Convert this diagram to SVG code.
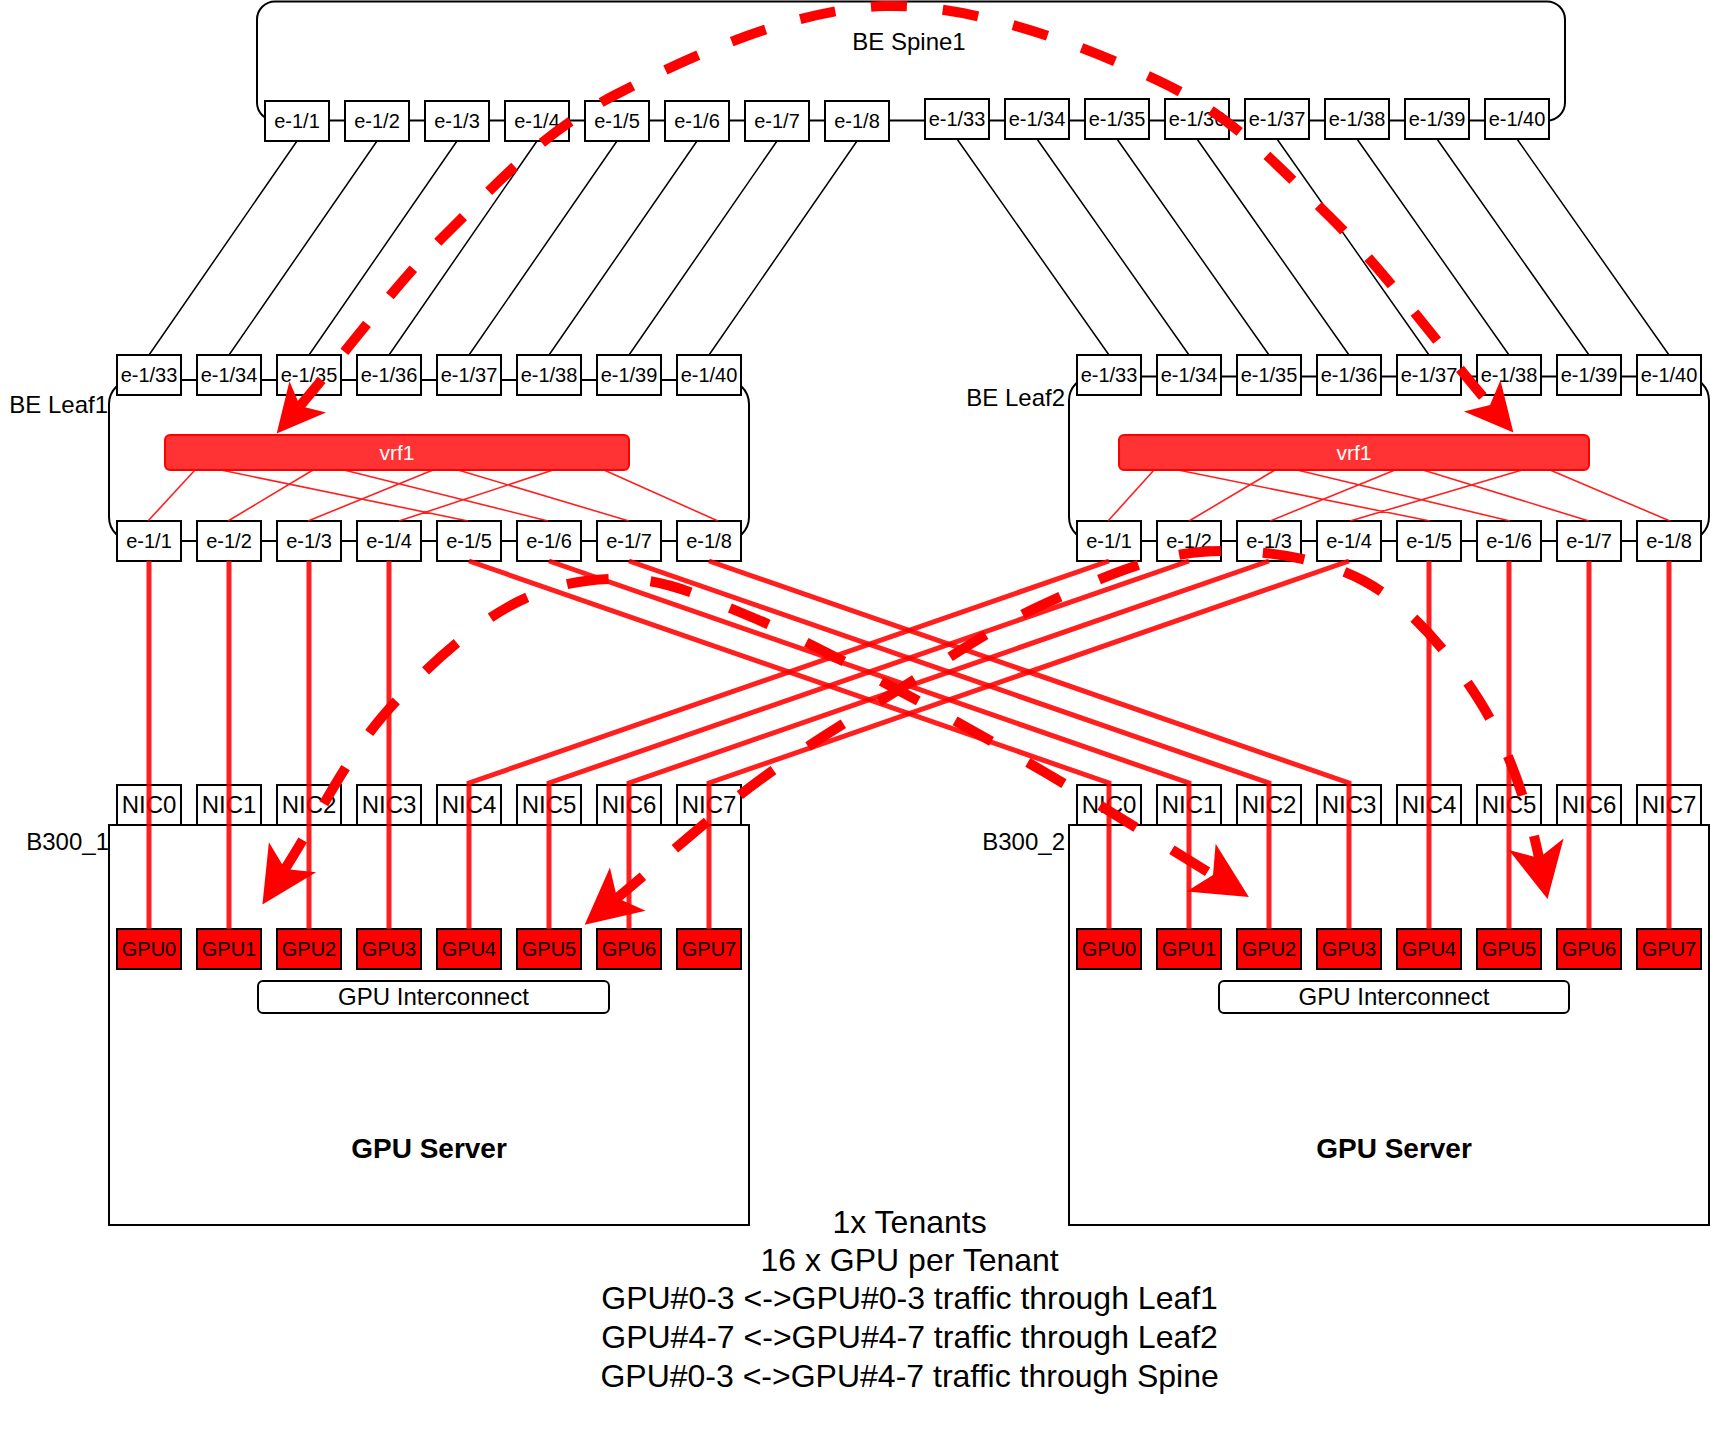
<svg xmlns="http://www.w3.org/2000/svg" width="1710" height="1434" viewBox="0 0 1710 1434">
<style>
text{font-family:"Liberation Sans",Arial,sans-serif;fill:#000}
.c{fill:#fff;stroke:#000;stroke-width:2}
.p{fill:#fff;stroke:#000;stroke-width:2}
.g{fill:#f00;stroke:#000;stroke-width:2}
.pt{font-size:20px;text-anchor:middle}
.nt{font-size:24px;text-anchor:middle}
.gt{font-size:20px;text-anchor:middle}
.lbl{font-size:24px;text-anchor:end}
.vrf{fill:#f33;stroke:#f00;stroke-width:2}
.vt{font-size:21px;text-anchor:middle;fill:#fff}
.ic{fill:#fff;stroke:#000;stroke-width:2}
.it{font-size:24px;text-anchor:middle}
.srv{font-size:28px;font-weight:bold;text-anchor:middle}
.note{font-size:32px;text-anchor:middle}
.bl{stroke:#000;stroke-width:1.5;fill:none}
.vl{stroke:#f00;stroke-opacity:.88;stroke-width:1.6;fill:none}
.tl{stroke:#f00;stroke-opacity:.88;stroke-width:5;fill:none}
.fT{stroke:#f00;stroke-width:10;fill:none;stroke-dasharray:36 36;stroke-dashoffset:2;marker-start:url(#ahT);marker-end:url(#ahT)}
.fL{stroke:#f00;stroke-width:10;fill:none;stroke-dasharray:42 42;stroke-dashoffset:8;marker-start:url(#ahL);marker-end:url(#ahL)}
</style>
<defs>
<marker id="ahT" markerUnits="userSpaceOnUse" orient="auto-start-reverse" refX="0" refY="0" markerWidth="10" markerHeight="10" overflow="visible"><path d="M36,0 L-12,-24 L0,0 L-12,24 Z" fill="#f00"/></marker>
<marker id="ahL" markerUnits="userSpaceOnUse" orient="auto-start-reverse" refX="0" refY="0" markerWidth="10" markerHeight="10" overflow="visible"><path d="M42,0 L-14,-28 L0,0 L-14,28 Z" fill="#f00"/></marker>
</defs>
<rect width="1710" height="1434" fill="#fff"/>

<!-- Spine -->
<g id="spine1"><rect class="c" x="257" y="1.5" width="1308" height="119" rx="18"/><text x="909" y="50" style="font-size:24px;text-anchor:middle">BE Spine1</text></g>
<g id="spine1-p1"><rect class="p" x="265" y="101" width="64" height="40"/><text class="pt" x="297" y="128">e-1/1</text></g>
<g id="spine1-p2"><rect class="p" x="345" y="101" width="64" height="40"/><text class="pt" x="377" y="128">e-1/2</text></g>
<g id="spine1-p3"><rect class="p" x="425" y="101" width="64" height="40"/><text class="pt" x="457" y="128">e-1/3</text></g>
<g id="spine1-p4"><rect class="p" x="505" y="101" width="64" height="40"/><text class="pt" x="537" y="128">e-1/4</text></g>
<g id="spine1-p5"><rect class="p" x="585" y="101" width="64" height="40"/><text class="pt" x="617" y="128">e-1/5</text></g>
<g id="spine1-p6"><rect class="p" x="665" y="101" width="64" height="40"/><text class="pt" x="697" y="128">e-1/6</text></g>
<g id="spine1-p7"><rect class="p" x="745" y="101" width="64" height="40"/><text class="pt" x="777" y="128">e-1/7</text></g>
<g id="spine1-p8"><rect class="p" x="825" y="101" width="64" height="40"/><text class="pt" x="857" y="128">e-1/8</text></g>
<g id="spine1-p33"><rect class="p" x="925" y="99" width="64" height="40"/><text class="pt" x="957" y="126">e-1/33</text></g>
<g id="spine1-p34"><rect class="p" x="1005" y="99" width="64" height="40"/><text class="pt" x="1037" y="126">e-1/34</text></g>
<g id="spine1-p35"><rect class="p" x="1085" y="99" width="64" height="40"/><text class="pt" x="1117" y="126">e-1/35</text></g>
<g id="spine1-p36"><rect class="p" x="1165" y="99" width="64" height="40"/><text class="pt" x="1197" y="126">e-1/36</text></g>
<g id="spine1-p37"><rect class="p" x="1245" y="99" width="64" height="40"/><text class="pt" x="1277" y="126">e-1/37</text></g>
<g id="spine1-p38"><rect class="p" x="1325" y="99" width="64" height="40"/><text class="pt" x="1357" y="126">e-1/38</text></g>
<g id="spine1-p39"><rect class="p" x="1405" y="99" width="64" height="40"/><text class="pt" x="1437" y="126">e-1/39</text></g>
<g id="spine1-p40"><rect class="p" x="1485" y="99" width="64" height="40"/><text class="pt" x="1517" y="126">e-1/40</text></g>

<!-- Leaf1 -->
<g id="leaf1"><rect class="c" x="109" y="380" width="640" height="161" rx="24"/><text class="lbl" x="108" y="413">BE Leaf1</text></g>
<g id="leaf1-p33"><rect class="p" x="117" y="355" width="64" height="40"/><text class="pt" x="149" y="382">e-1/33</text></g>
<g id="leaf1-p34"><rect class="p" x="197" y="355" width="64" height="40"/><text class="pt" x="229" y="382">e-1/34</text></g>
<g id="leaf1-p35"><rect class="p" x="277" y="355" width="64" height="40"/><text class="pt" x="309" y="382">e-1/35</text></g>
<g id="leaf1-p36"><rect class="p" x="357" y="355" width="64" height="40"/><text class="pt" x="389" y="382">e-1/36</text></g>
<g id="leaf1-p37"><rect class="p" x="437" y="355" width="64" height="40"/><text class="pt" x="469" y="382">e-1/37</text></g>
<g id="leaf1-p38"><rect class="p" x="517" y="355" width="64" height="40"/><text class="pt" x="549" y="382">e-1/38</text></g>
<g id="leaf1-p39"><rect class="p" x="597" y="355" width="64" height="40"/><text class="pt" x="629" y="382">e-1/39</text></g>
<g id="leaf1-p40"><rect class="p" x="677" y="355" width="64" height="40"/><text class="pt" x="709" y="382">e-1/40</text></g>
<g id="leaf1-vrf1"><rect class="vrf" x="165" y="435" width="464" height="35" rx="5"/><text class="vt" x="397" y="460">vrf1</text></g>
<g id="leaf1-p1"><rect class="p" x="117" y="521" width="64" height="40"/><text class="pt" x="149" y="548">e-1/1</text></g>
<g id="leaf1-p2"><rect class="p" x="197" y="521" width="64" height="40"/><text class="pt" x="229" y="548">e-1/2</text></g>
<g id="leaf1-p3"><rect class="p" x="277" y="521" width="64" height="40"/><text class="pt" x="309" y="548">e-1/3</text></g>
<g id="leaf1-p4"><rect class="p" x="357" y="521" width="64" height="40"/><text class="pt" x="389" y="548">e-1/4</text></g>
<g id="leaf1-p5"><rect class="p" x="437" y="521" width="64" height="40"/><text class="pt" x="469" y="548">e-1/5</text></g>
<g id="leaf1-p6"><rect class="p" x="517" y="521" width="64" height="40"/><text class="pt" x="549" y="548">e-1/6</text></g>
<g id="leaf1-p7"><rect class="p" x="597" y="521" width="64" height="40"/><text class="pt" x="629" y="548">e-1/7</text></g>
<g id="leaf1-p8"><rect class="p" x="677" y="521" width="64" height="40"/><text class="pt" x="709" y="548">e-1/8</text></g>

<!-- Leaf2 -->
<g id="leaf2"><rect class="c" x="1069" y="376.5" width="640" height="164.5" rx="24"/><text class="lbl" x="1065" y="406">BE Leaf2</text></g>
<g id="leaf2-p33"><rect class="p" x="1077" y="355" width="64" height="40"/><text class="pt" x="1109" y="382">e-1/33</text></g>
<g id="leaf2-p34"><rect class="p" x="1157" y="355" width="64" height="40"/><text class="pt" x="1189" y="382">e-1/34</text></g>
<g id="leaf2-p35"><rect class="p" x="1237" y="355" width="64" height="40"/><text class="pt" x="1269" y="382">e-1/35</text></g>
<g id="leaf2-p36"><rect class="p" x="1317" y="355" width="64" height="40"/><text class="pt" x="1349" y="382">e-1/36</text></g>
<g id="leaf2-p37"><rect class="p" x="1397" y="355" width="64" height="40"/><text class="pt" x="1429" y="382">e-1/37</text></g>
<g id="leaf2-p38"><rect class="p" x="1477" y="355" width="64" height="40"/><text class="pt" x="1509" y="382">e-1/38</text></g>
<g id="leaf2-p39"><rect class="p" x="1557" y="355" width="64" height="40"/><text class="pt" x="1589" y="382">e-1/39</text></g>
<g id="leaf2-p40"><rect class="p" x="1637" y="355" width="64" height="40"/><text class="pt" x="1669" y="382">e-1/40</text></g>
<g id="leaf2-vrf1"><rect class="vrf" x="1119" y="435" width="470" height="35" rx="5"/><text class="vt" x="1354" y="460">vrf1</text></g>
<g id="leaf2-p1"><rect class="p" x="1077" y="521" width="64" height="40"/><text class="pt" x="1109" y="548">e-1/1</text></g>
<g id="leaf2-p2"><rect class="p" x="1157" y="521" width="64" height="40"/><text class="pt" x="1189" y="548">e-1/2</text></g>
<g id="leaf2-p3"><rect class="p" x="1237" y="521" width="64" height="40"/><text class="pt" x="1269" y="548">e-1/3</text></g>
<g id="leaf2-p4"><rect class="p" x="1317" y="521" width="64" height="40"/><text class="pt" x="1349" y="548">e-1/4</text></g>
<g id="leaf2-p5"><rect class="p" x="1397" y="521" width="64" height="40"/><text class="pt" x="1429" y="548">e-1/5</text></g>
<g id="leaf2-p6"><rect class="p" x="1477" y="521" width="64" height="40"/><text class="pt" x="1509" y="548">e-1/6</text></g>
<g id="leaf2-p7"><rect class="p" x="1557" y="521" width="64" height="40"/><text class="pt" x="1589" y="548">e-1/7</text></g>
<g id="leaf2-p8"><rect class="p" x="1637" y="521" width="64" height="40"/><text class="pt" x="1669" y="548">e-1/8</text></g>

<!-- B300_1 -->
<g id="b300-1"><rect class="c" x="109" y="825" width="640" height="400"/><text class="lbl" x="109" y="850">B300_1</text><text class="srv" x="429" y="1158">GPU Server</text></g>
<g id="b300-1-nic0"><rect class="p" x="117" y="785" width="64" height="40"/><text class="nt" x="149" y="813">NIC0</text></g>
<g id="b300-1-nic1"><rect class="p" x="197" y="785" width="64" height="40"/><text class="nt" x="229" y="813">NIC1</text></g>
<g id="b300-1-nic2"><rect class="p" x="277" y="785" width="64" height="40"/><text class="nt" x="309" y="813">NIC2</text></g>
<g id="b300-1-nic3"><rect class="p" x="357" y="785" width="64" height="40"/><text class="nt" x="389" y="813">NIC3</text></g>
<g id="b300-1-nic4"><rect class="p" x="437" y="785" width="64" height="40"/><text class="nt" x="469" y="813">NIC4</text></g>
<g id="b300-1-nic5"><rect class="p" x="517" y="785" width="64" height="40"/><text class="nt" x="549" y="813">NIC5</text></g>
<g id="b300-1-nic6"><rect class="p" x="597" y="785" width="64" height="40"/><text class="nt" x="629" y="813">NIC6</text></g>
<g id="b300-1-nic7"><rect class="p" x="677" y="785" width="64" height="40"/><text class="nt" x="709" y="813">NIC7</text></g>
<g id="b300-1-gpu0"><rect class="g" x="117" y="929" width="64" height="40"/><text class="gt" x="149" y="956">GPU0</text></g>
<g id="b300-1-gpu1"><rect class="g" x="197" y="929" width="64" height="40"/><text class="gt" x="229" y="956">GPU1</text></g>
<g id="b300-1-gpu2"><rect class="g" x="277" y="929" width="64" height="40"/><text class="gt" x="309" y="956">GPU2</text></g>
<g id="b300-1-gpu3"><rect class="g" x="357" y="929" width="64" height="40"/><text class="gt" x="389" y="956">GPU3</text></g>
<g id="b300-1-gpu4"><rect class="g" x="437" y="929" width="64" height="40"/><text class="gt" x="469" y="956">GPU4</text></g>
<g id="b300-1-gpu5"><rect class="g" x="517" y="929" width="64" height="40"/><text class="gt" x="549" y="956">GPU5</text></g>
<g id="b300-1-gpu6"><rect class="g" x="597" y="929" width="64" height="40"/><text class="gt" x="629" y="956">GPU6</text></g>
<g id="b300-1-gpu7"><rect class="g" x="677" y="929" width="64" height="40"/><text class="gt" x="709" y="956">GPU7</text></g>
<g id="b300-1-ic"><rect class="ic" x="258" y="981" width="351" height="32" rx="5"/><text class="it" x="433.5" y="1005">GPU Interconnect</text></g>

<!-- B300_2 -->
<g id="b300-2"><rect class="c" x="1069" y="825" width="640" height="400"/><text class="lbl" x="1065" y="850">B300_2</text><text class="srv" x="1394" y="1158">GPU Server</text></g>
<g id="b300-2-nic0"><rect class="p" x="1077" y="785" width="64" height="40"/><text class="nt" x="1109" y="813">NIC0</text></g>
<g id="b300-2-nic1"><rect class="p" x="1157" y="785" width="64" height="40"/><text class="nt" x="1189" y="813">NIC1</text></g>
<g id="b300-2-nic2"><rect class="p" x="1237" y="785" width="64" height="40"/><text class="nt" x="1269" y="813">NIC2</text></g>
<g id="b300-2-nic3"><rect class="p" x="1317" y="785" width="64" height="40"/><text class="nt" x="1349" y="813">NIC3</text></g>
<g id="b300-2-nic4"><rect class="p" x="1397" y="785" width="64" height="40"/><text class="nt" x="1429" y="813">NIC4</text></g>
<g id="b300-2-nic5"><rect class="p" x="1477" y="785" width="64" height="40"/><text class="nt" x="1509" y="813">NIC5</text></g>
<g id="b300-2-nic6"><rect class="p" x="1557" y="785" width="64" height="40"/><text class="nt" x="1589" y="813">NIC6</text></g>
<g id="b300-2-nic7"><rect class="p" x="1637" y="785" width="64" height="40"/><text class="nt" x="1669" y="813">NIC7</text></g>
<g id="b300-2-gpu0"><rect class="g" x="1077" y="929" width="64" height="40"/><text class="gt" x="1109" y="956">GPU0</text></g>
<g id="b300-2-gpu1"><rect class="g" x="1157" y="929" width="64" height="40"/><text class="gt" x="1189" y="956">GPU1</text></g>
<g id="b300-2-gpu2"><rect class="g" x="1237" y="929" width="64" height="40"/><text class="gt" x="1269" y="956">GPU2</text></g>
<g id="b300-2-gpu3"><rect class="g" x="1317" y="929" width="64" height="40"/><text class="gt" x="1349" y="956">GPU3</text></g>
<g id="b300-2-gpu4"><rect class="g" x="1397" y="929" width="64" height="40"/><text class="gt" x="1429" y="956">GPU4</text></g>
<g id="b300-2-gpu5"><rect class="g" x="1477" y="929" width="64" height="40"/><text class="gt" x="1509" y="956">GPU5</text></g>
<g id="b300-2-gpu6"><rect class="g" x="1557" y="929" width="64" height="40"/><text class="gt" x="1589" y="956">GPU6</text></g>
<g id="b300-2-gpu7"><rect class="g" x="1637" y="929" width="64" height="40"/><text class="gt" x="1669" y="956">GPU7</text></g>
<g id="b300-2-ic"><rect class="ic" x="1219" y="981" width="350" height="32" rx="5"/><text class="it" x="1394" y="1005">GPU Interconnect</text></g>

<g id="notes">
<text class="note" x="909.6" y="1233">1x Tenants</text>
<text class="note" x="909.6" y="1271">16 x GPU per Tenant</text>
<text class="note" x="909.6" y="1309">GPU#0-3 &lt;-&gt;GPU#0-3 traffic through Leaf1</text>
<text class="note" x="909.6" y="1348">GPU#4-7 &lt;-&gt;GPU#4-7 traffic through Leaf2</text>
<text class="note" x="909.6" y="1387">GPU#0-3 &lt;-&gt;GPU#4-7 traffic through Spine</text>
</g>

<g id="connectors">
<path class="bl" d="M297,141L149,355M377,141L229,355M457,141L309,355M537,141L389,355M617,141L469,355M697,141L549,355M777,141L629,355M857,141L709,355"/>
<path class="bl" d="M957,139L1109,355M1037,139L1189,355M1117,139L1269,355M1197,139L1349,355M1277,139L1429,355M1357,139L1509,355M1437,139L1589,355M1517,139L1669,355"/>
<path class="vl" d="M195,470L148,521M221,470L468,521M313,470L228,521M344,470L548,521M433,470L308,521M458,470L629,521M553,470L399,521M604,470L718,521"/>
<path class="vl" d="M1154,470L1108,521M1178,470L1430,521M1275,470L1189,521M1297,470L1510,521M1395,470L1270,521M1423,470L1589,521M1522,470L1350,521M1550,470L1670,521"/>
<path class="tl" d="M149,561V929M229,561V929M309,561V929M389,561V929"/>
<path class="tl" d="M1429,561V929M1509,561V929M1589,561V929M1669,561V929"/>
<path class="tl" d="M469,561L1109,783V929M549,561L1189,783V929M629,561L1269,783V929M709,561L1349,783V929"/>
<path class="tl" d="M1109,561L469,783V929M1189,561L549,783V929M1269,561L629,783V929M1349,561L709,783V929"/>
<path id="flow-spine" class="fT" d="M300,406 C349.3,348 395.5,283.8 448,232 C500.5,180.2 542.2,132.7 615,95 C687.8,57.3 794.3,8.3 885,6 C975.7,3.7 1085.2,46.2 1159,81 C1232.8,115.8 1272.8,161 1328,215 C1383.2,269 1436,341.7 1490,405"/>
<path id="flow-leaf1" class="fL" d="M285,869 C317.3,818.3 344.8,760.7 382,717 C419.2,673.3 466.8,630 508,607 C549.2,584 588.8,577.5 629,579 C669.2,580.5 704.2,597.5 749,616 C793.8,634.5 848.5,663.8 898,690 C947.5,716.2 993.5,742.2 1046,773 C1098.5,803.8 1157.3,841 1213,875"/>
<path id="flow-leaf2" class="fL" d="M617,898 C663.7,859.3 710.2,816.7 757,782 C803.8,747.3 850.5,719.5 898,690 C945.5,660.5 991.5,628 1042,605 C1092.5,582 1147.3,556 1201,552 C1254.7,548 1317.7,556.3 1364,581 C1410.3,605.7 1449.8,653.8 1479,700 C1508.2,746.2 1528,805 1539,858"/>
</g>
</svg>
